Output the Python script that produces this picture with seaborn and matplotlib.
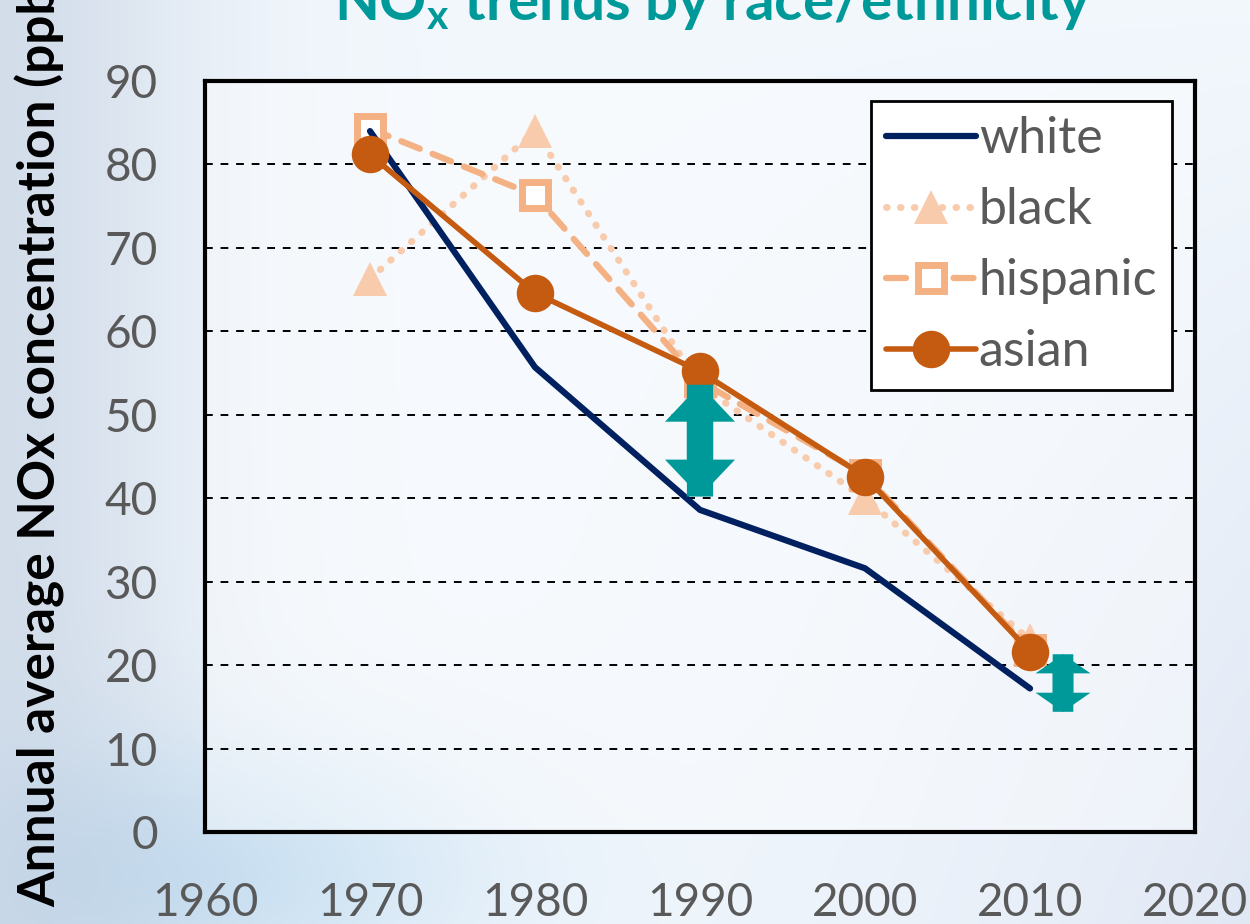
import numpy as np
import pandas as pd
import matplotlib
matplotlib.use("Agg")
import matplotlib.pyplot as plt
import seaborn as sns

# Data (ppb)
years = [1970, 1980, 1990, 2000, 2010]
white = [84.0, 55.7, 38.6, 31.6, 17.2]
black = [66.3, 84.0, 53.5, 40.0, 23.0]
hispanic = [84.3, 76.3, 54.0, 42.8, 21.8]
asian = [81.2, 64.6, 55.2, 42.6, 21.6]

x_ticks = [1960, 1970, 1980, 1990, 2000, 2010, 2020]
y_ticks = [0, 10, 20, 30, 40, 50, 60, 70, 80, 90]

# teal gap arrows (x, low, high, size, head length)
gap_arrows = [(1990, 40.2, 53.6, 14, 1.9), (2012, 14.4, 21.3, 11, 1.25)]

sns.set_theme(style="white")
plt.rcParams['font.family'] = ['Lato', 'DejaVu Sans']

fig = plt.figure(figsize=(12.5, 9.24), dpi=100)

# soft photo-like background
bg = fig.add_axes([0, 0, 1, 1], zorder=-10)
gx, gy = np.meshgrid(np.linspace(0, 1, 300), np.linspace(0, 1, 220))
base = np.array([0.95, 0.97, 0.99])
left_shade = np.exp(-(gx / 0.16) ** 2)[..., None] * np.array([0.12, 0.10, 0.07])
low_shade = (np.exp(-((gx - 0.2) / 0.2) ** 2) * np.exp(-((gy - 0.95) / 0.15) ** 2))[..., None] * np.array([0.13, 0.07, 0.03])
right_shade = (gx ** 3 * gy)[..., None] * np.array([0.07, 0.06, 0.03])
img = np.clip(base - left_shade - low_shade - right_shade, 0, 1)
bg.imshow(img, aspect='auto', extent=[0, 1, 0, 1], origin='upper')
bg.axis('off')

ax = fig.add_axes([0.164, 0.0996, 0.792, 0.8127])
ax.set_facecolor((1, 1, 1, 0.4))

sns.lineplot(x=years, y=white, ax=ax, color='#002060', lw=4.5, label='white',
             solid_capstyle='round', zorder=3)
sns.lineplot(x=years, y=black, ax=ax, color='#F8CBAD', lw=5, label='black',
             linestyle=(0, (0.1, 1.9)), dash_capstyle='round',
             marker='^', markersize=25, markeredgewidth=0, zorder=2)
sns.lineplot(x=years, y=hispanic, ax=ax, color='#F4B183', lw=4.5, label='hispanic',
             linestyle=(0, (3.2, 2.2)), dash_capstyle='round',
             marker='s', markersize=19, markerfacecolor='white',
             markeredgecolor='#F4B183', markeredgewidth=5, zorder=2.5)
sns.lineplot(x=years, y=asian, ax=ax, color='#C55A11', lw=4, label='asian',
             marker='o', markersize=27, markeredgewidth=0, zorder=4)

# double-headed teal arrows showing the gap
for xa, lo, hi, sz, hl in gap_arrows:
    style = f'simple,head_length={hl},head_width=3.6,tail_width=1.35'
    for a, b in ((lo, hi), (hi, lo)):
        ax.annotate('', xy=(xa, b), xytext=(xa, a),
                    arrowprops=dict(arrowstyle=style, color='#009999', lw=0,
                                    mutation_scale=sz, shrinkA=0, shrinkB=0),
                    zorder=5)

ax.set_xlim(1960, 2020)
ax.set_ylim(0, 90)
ax.set_xticks(x_ticks)
ax.set_yticks(y_ticks)
ax.tick_params(axis='both', length=0, labelsize=33, labelcolor='#595959')
ax.tick_params(axis='x', pad=36)
ax.tick_params(axis='y', pad=34)
ax.yaxis.grid(True, color='black', linestyle=(0, (4, 4)), lw=1.4)
ax.xaxis.grid(False)
for s in ax.spines.values():
    s.set_color('black')
    s.set_linewidth(3)
ax.set_xlabel('')
ax.set_ylabel('')

leg = ax.legend(loc='upper right', bbox_to_anchor=(0.977, 0.973), fontsize=36,
                frameon=True, fancybox=False, edgecolor='black', framealpha=1,
                handlelength=1.8, handletextpad=0.05, borderpad=0.3,
                labelspacing=0.5, borderaxespad=0)
leg.get_frame().set_linewidth(2)
for t in leg.get_texts():
    t.set_color('#595959')

fig.text(0.032, 0.525, 'Annual average NOx concentration (ppb)', rotation=90,
         ha='center', va='center', fontsize=37, fontweight='bold', color='black')
fig.text(0.57, 0.978, r'NO$_\mathregular{x}$ trends by race/ethnicity', ha='center',
         va='baseline', fontsize=42, fontweight='bold', color='#009999')

fig.savefig('out.png', dpi=100)
